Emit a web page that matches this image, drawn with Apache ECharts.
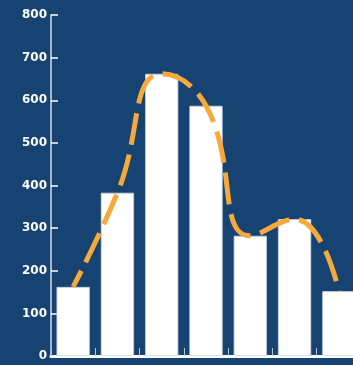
<!DOCTYPE html>
<html>
<head>
<meta charset="utf-8">
<style>
  html, body { margin: 0; padding: 0; background: #174372; }
  #chart { width: 353px; height: 365px; }
</style>
<script src="https://cdn.jsdelivr.net/npm/echarts@6/dist/echarts.min.js"></script>
</head>
<body>
<div id="chart"></div>
<script>
// Categories and values
const categories = ['A', 'B', 'C', 'D', 'E', 'F', 'G'];
const barValues = [162, 383, 662, 587, 282, 321, 152];
const lineValues = [162, 383, 662, 587, 282, 321, 152];
const yTicks = { min: 0, max: 800, interval: 100 };

const chart = echarts.init(document.getElementById('chart'), null, { renderer: 'canvas' });

chart.setOption({
  backgroundColor: '#174372',
  animation: false,
  // plot area runs a little past the right edge of the canvas
  grid: { left: 51, width: 310, top: 15, bottom: 9, outerBoundsMode: 'none' },
  xAxis: {
    type: 'category',
    data: categories,
    boundaryGap: true,
    axisLine: { show: true, lineStyle: { color: '#ffffff', width: 3 } },
    axisTick: { show: true, inside: true, length: 8, lineStyle: { color: '#b9c4d2', width: 1 } },
    axisLabel: { show: false },
    splitLine: { show: false }
  },
  yAxis: {
    type: 'value',
    min: yTicks.min,
    max: yTicks.max,
    interval: yTicks.interval,
    axisLine: { show: true, lineStyle: { color: '#d6dbe3', width: 1.5 } },
    axisTick: { show: true, inside: true, length: 7, lineStyle: { color: '#ffffff', width: 1.5 } },
    axisLabel: {
      color: '#ffffff',
      fontFamily: 'DejaVu Sans',
      fontWeight: 'bold',
      fontSize: 12,
      margin: 4
    },
    splitLine: { show: false }
  },
  series: [
    {
      type: 'bar',
      data: barValues,
      barCategoryGap: '25%',
      itemStyle: { color: '#ffffff', borderColor: '#c9d2dd', borderWidth: 0.8 },
      z: 2
    },
    {
      type: 'line',
      data: lineValues,
      smooth: true,
      showSymbol: false,
      symbol: 'none',
      lineStyle: { color: '#f7a93b', width: 5, type: [32, 10], dashOffset: 14, cap: 'butt' },
      z: 3
    }
  ]
});
</script>
</body>
</html>
